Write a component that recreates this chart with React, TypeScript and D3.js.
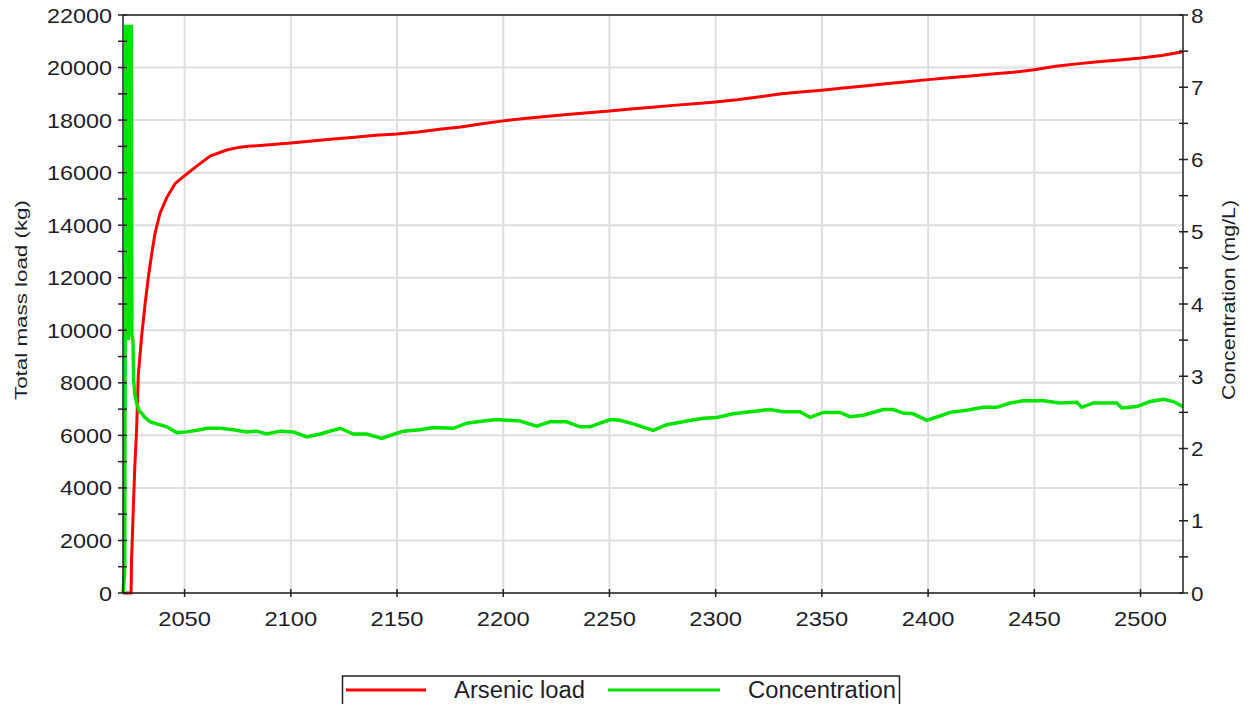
import React from "react";
import * as d3 from "d3";

// ---- Data ----
const loadYears = [
  2021, 2024.8, 2025.0, 2025.9, 2026.6, 2027.4, 2028.2, 2029.8, 2031.4, 2032.9,
  2034.5, 2036.1, 2038.4, 2041.6, 2045.5, 2051, 2055.7, 2062, 2069.8, 2076,
  2080, 2090, 2100, 2110, 2120, 2130, 2140, 2150, 2160, 2170, 2180, 2190, 2200,
  2210, 2220, 2230, 2240, 2250, 2260, 2270, 2280, 2290, 2300, 2310, 2320, 2330,
  2340, 2350, 2360, 2370, 2380, 2390, 2400, 2410, 2420, 2430, 2440, 2450, 2460,
  2470, 2480, 2490, 2500, 2510, 2520,
];
const loadValues = [
  0, 0, 1200, 3300, 4900, 6200, 8300, 9800, 11000, 12000,
  12900, 13700, 14450, 15050, 15580, 15950, 16250, 16630, 16860, 16970,
  17000, 17060, 17130, 17200, 17280, 17350, 17420, 17470, 17550, 17650, 17740, 17860, 17970,
  18060, 18140, 18210, 18280, 18350, 18420, 18490, 18560, 18620, 18690, 18770, 18880, 18990,
  19070, 19140, 19220, 19300, 19380, 19460, 19540, 19610, 19680, 19750, 19820, 19920, 20050,
  20140, 20220, 20290, 20360, 20460, 20600,
];

const concYears = [
  2021.0, 2021.8, 2022.3, 2023.2, 2023.5, 2023.8, 2024.9, 2025.2, 2025.7, 2026.0,
  2026.6, 2027.4, 2028.6, 2029.8, 2031, 2033.7, 2037, 2041.6, 2046.3, 2051,
  2057.2, 2060.4, 2066.7, 2072.9, 2079.2, 2083.9, 2088.6, 2094.9, 2101.2, 2107.5,
  2113.8, 2123.2, 2129.4, 2135.7, 2142.8, 2146.7, 2153, 2160.8, 2167.1, 2176.5,
  2182.8, 2190.6, 2196.9, 2207.9, 2215.8, 2222, 2229.9, 2236.1, 2240.8, 2250.3,
  2255, 2261.2, 2270.6, 2277, 2286.4, 2294.2, 2300.5, 2308.3, 2316.2, 2325.6,
  2331.8, 2339.7, 2344.4, 2350.7, 2358.5, 2363.2, 2369.5, 2378.9, 2383.6, 2388.3,
  2393, 2399.4, 2405.6, 2410.3, 2418.2, 2426, 2432.3, 2438.6, 2444.8, 2454.3,
  2462.1, 2470, 2472.3, 2477.8, 2488.8, 2491.2, 2498.2, 2504.5, 2510.8, 2515.5,
  2520,
];
const concValues = [
  0, 0.3, 7.84, 7.84, 3.5, 7.84, 7.84, 3.56, 3.5, 2.95,
  2.74, 2.63, 2.52, 2.49, 2.44, 2.37, 2.34, 2.30, 2.22, 2.23,
  2.26, 2.28, 2.28, 2.26, 2.23, 2.24, 2.20, 2.24, 2.23, 2.16,
  2.20, 2.28, 2.20, 2.20, 2.14, 2.18, 2.24, 2.26, 2.29, 2.28,
  2.35, 2.38, 2.40, 2.38, 2.31, 2.37, 2.37, 2.30, 2.30, 2.40,
  2.39, 2.34, 2.25, 2.33, 2.38, 2.42, 2.43, 2.48, 2.51, 2.54,
  2.51, 2.51, 2.43, 2.50, 2.50, 2.44, 2.46, 2.54, 2.54, 2.49,
  2.48, 2.39, 2.45, 2.50, 2.53, 2.57, 2.57, 2.63, 2.66, 2.66,
  2.63, 2.64, 2.57, 2.63, 2.63, 2.56, 2.58, 2.65, 2.68, 2.65,
  2.58,
];

const xTicks = [2050, 2100, 2150, 2200, 2250, 2300, 2350, 2400, 2450, 2500];
const leftTicks = [0, 2000, 4000, 6000, 8000, 10000, 12000, 14000, 16000, 18000, 20000, 22000];
const leftMinor = d3.range(0, 22001, 1000);
const rightTicks = [0, 1, 2, 3, 4, 5, 6, 7, 8];
const rightMinor = d3.range(0, 8.01, 0.5);
const seriesNames = ["Arsenic load", "Concentration"];
const seriesColors = ["#ff0000", "#00e400"];

const FONT = "Arial, 'Liberation Sans', Helvetica, sans-serif";

export default function App() {
  const W = 1251, H = 704;
  const L = 123, R = 1183, T = 15, B = 593;
  const x = d3.scaleLinear().domain([2021, 2520]).range([L, R]);
  const yL = d3.scaleLinear().domain([0, 22000]).range([B, T]);
  const yR = d3.scaleLinear().domain([0, 8]).range([B, T]);

  const loadData = loadYears.map((yr, i) => [yr, loadValues[i]] as [number, number]);
  const concData = concYears.map((yr, i) => [yr, concValues[i]] as [number, number]);
  const loadLine = d3.line<[number, number]>().x(d => x(d[0])).y(d => yL(d[1]));
  const concLine = d3.line<[number, number]>().x(d => x(d[0])).y(d => yR(d[1]));

  const axisColor = "#222";
  const textColor = "#1e1e2a";
  const gridColor = "#dedede";

  return (
    <svg width={W} height={H} style={{ position: "absolute", left: 0, top: 0, background: "#fff" }}>
      {/* grid */}
      {xTicks.map(t => (
        <line key={"gx" + t} x1={x(t)} x2={x(t)} y1={T} y2={B} stroke={gridColor} strokeWidth={2} />
      ))}
      {leftTicks.map(t => (
        <line key={"gy" + t} x1={L} x2={R} y1={yL(t)} y2={yL(t)} stroke={gridColor} strokeWidth={2} />
      ))}

      {/* series */}
      <path d={loadLine(loadData) || ""} fill="none" stroke={seriesColors[0]} strokeWidth={3} strokeLinejoin="miter" />
      <path d={concLine(concData) || ""} fill="none" stroke={seriesColors[1]} strokeWidth={3.5} strokeLinejoin="miter" />

      {/* frame */}
      <line x1={L} x2={R} y1={T} y2={T} stroke={axisColor} strokeWidth={1.5} />
      <line x1={L} x2={R} y1={B} y2={B} stroke={axisColor} strokeWidth={1.5} />
      <line x1={L} x2={L} y1={T} y2={B} stroke={axisColor} strokeWidth={1.5} />
      <line x1={R} x2={R} y1={T} y2={B} stroke={axisColor} strokeWidth={1.5} />

      {/* left ticks */}
      {leftMinor.map(t => (
        <line key={"lt" + t} x1={L - 5} x2={L + 4} y1={yL(t)} y2={yL(t)} stroke={axisColor} strokeWidth={1.5} />
      ))}
      {leftTicks.map(t => {
        const s = String(t);
        return (
          <text key={"ll" + t} x={112} y={yL(t) + 7.5} textAnchor="end" fontFamily={FONT} fontSize={21}
            fill={textColor} textLength={13 * s.length} lengthAdjust="spacingAndGlyphs">{s}</text>
        );
      })}

      {/* right ticks */}
      {rightMinor.map(t => (
        <line key={"rt" + t} x1={R - 4} x2={R + 5} y1={yR(t)} y2={yR(t)} stroke={axisColor} strokeWidth={1.5} />
      ))}
      {rightTicks.map(t => (
        <text key={"rl" + t} x={1191} y={yR(t) + 7.5} textAnchor="start" fontFamily={FONT} fontSize={21}
          fill={textColor} textLength={12.5} lengthAdjust="spacingAndGlyphs">{String(t)}</text>
      ))}

      {/* bottom ticks */}
      {xTicks.map(t => (
        <line key={"bt" + t} x1={x(t)} x2={x(t)} y1={B - 4} y2={B + 4} stroke={axisColor} strokeWidth={1.5} />
      ))}
      {xTicks.map(t => {
        const s = String(t);
        return (
          <text key={"bl" + t} x={x(t)} y={626} textAnchor="middle" fontFamily={FONT} fontSize={21}
            fill={textColor} textLength={13.2 * s.length} lengthAdjust="spacingAndGlyphs">{s}</text>
        );
      })}

      {/* axis titles */}
      <text transform={`translate(27,300) rotate(-90)`} textAnchor="middle" fontFamily={FONT} fontSize={17}
        fill={textColor} textLength={200} lengthAdjust="spacingAndGlyphs">Total mass load (kg)</text>
      <text transform={`translate(1235,300) rotate(-90)`} textAnchor="middle" fontFamily={FONT} fontSize={17.5}
        fill={textColor} textLength={200} lengthAdjust="spacingAndGlyphs">Concentration (mg/L)</text>

      {/* legend */}
      <rect x={342.5} y={676} width={557} height={40} fill="#fff" stroke={axisColor} strokeWidth={1.5} />
      <line x1={346} x2={426} y1={690} y2={690} stroke={seriesColors[0]} strokeWidth={3} />
      <text x={454} y={698} fontFamily={FONT} fontSize={23.5} fill={textColor}
        textLength={131} lengthAdjust="spacingAndGlyphs">{seriesNames[0]}</text>
      <line x1={608} x2={720} y1={690} y2={690} stroke={seriesColors[1]} strokeWidth={3} />
      <text x={748} y={698} fontFamily={FONT} fontSize={23.5} fill={textColor}
        textLength={148} lengthAdjust="spacingAndGlyphs">{seriesNames[1]}</text>
    </svg>
  );
}
